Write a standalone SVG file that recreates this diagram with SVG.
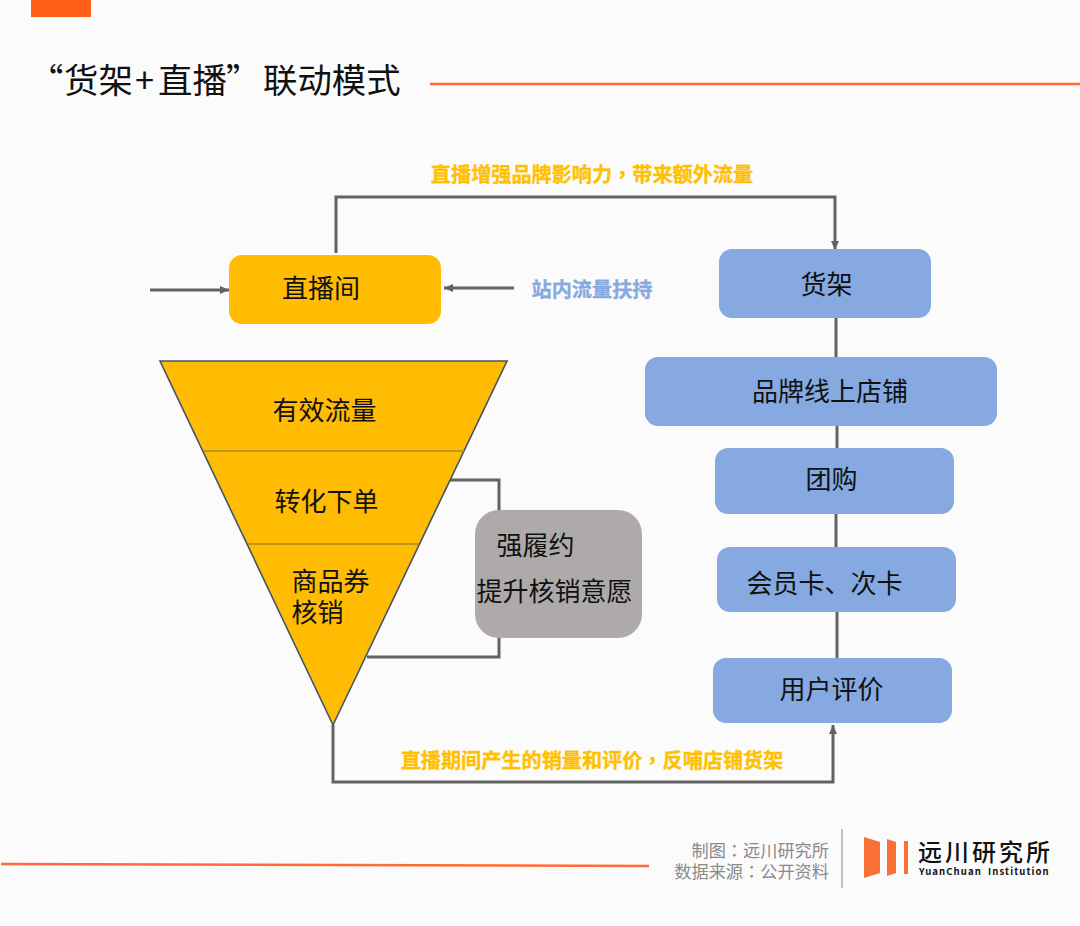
<svg xmlns="http://www.w3.org/2000/svg" width="1080" height="926" viewBox="0 0 1080 926">
<style>
text{font-family:"Noto Sans CJK SC","Noto Sans",sans-serif;fill:#111}
.n{font-size:26px;text-anchor:middle}
.l{font-size:20.15px;font-weight:700;fill:#ffc000;text-anchor:middle;stroke:#ffc000;stroke-width:.3}
.t{font-family:"Noto Sans CJK TC","Noto Sans",sans-serif}
.c{fill:none;stroke:#626262;stroke-width:3}
.b{fill:#85a9e0}
.y{fill:#ffbc03}
.o{fill:none;stroke:#ff6b35;stroke-width:2.4}
.f{font-size:17.2px;fill:#8a8a8a;text-anchor:end}
.h{font-size:34.4px}
</style>
<defs><marker id="a" markerUnits="userSpaceOnUse" markerWidth="10" markerHeight="10" refX="9" refY="5" orient="auto"><path d="M0 1L9 5L0 9Z" fill="#626262"/></marker></defs>
<rect width="1080" height="926" fill="#fbfbfb"/>
<rect x="31" y="0" width="60" height="17" fill="#ff5f17"/>
<text class="h" y="93"><tspan x="29">“</tspan><tspan x="64">货架</tspan><tspan x="135">+</tspan><tspan x="158">直播</tspan><tspan x="226">”</tspan><tspan x="263">联动模式</tspan></text>
<path class="o" d="M430 84H1080M1 864L649 866"/>
<g id="connectors">
<path class="c" d="M336 253V197H835V250" marker-end="url(#a)"/>
<path class="c" d="M150 290H229" marker-end="url(#a)"/>
<path class="c" d="M514 288H444" marker-end="url(#a)"/>
<path class="c" d="M836 318V357M837 426V448M836 514V547M837 612V658"/>
<path class="c" d="M450 480H499V511M367 657H499V636"/>
<path class="c" d="M333 725V782H833V725" marker-end="url(#a)"/>
</g>
<text class="l" x="592" y="182">直播增强品牌影响力<tspan class="t">，</tspan>带来额外流量</text>
<text class="l" x="592" y="768">直播期间产生的销量和评价<tspan class="t">，</tspan>反哺店铺货架</text>
<text class="l" x="592" y="297" style="fill:#85a9e0;stroke:#85a9e0">站内流量扶持</text>
<g id="live"><rect class="y" x="229" y="255" width="212" height="69" rx="13"/><text class="n" x="321" y="298">直播间</text></g>
<g id="shelf"><rect class="b" x="719" y="249" width="212" height="69" rx="13"/><text class="n" x="826.5" y="294">货架</text></g>
<g id="store"><rect class="b" x="645" y="357" width="352" height="69" rx="13"/><text class="n" x="830" y="401">品牌线上店铺</text></g>
<g id="group"><rect class="b" x="715" y="448" width="239" height="66" rx="13"/><text class="n" x="831.5" y="489">团购</text></g>
<g id="member"><rect class="b" x="717" y="547" width="239" height="65" rx="13"/><text class="n" x="824.5" y="593">会员卡、次卡</text></g>
<g id="review"><rect class="b" x="713" y="658" width="239" height="65" rx="13"/><text class="n" x="831.5" y="699">用户评价</text></g>
<g id="funnel">
<path class="y" stroke="#44546a" stroke-width="1.6" d="M160 361H507L333 725Z"/>
<path fill="none" stroke="#a88a1e" stroke-width="1.3" d="M203 451H464M248 544H419"/>
<text class="n" x="324.5" y="420">有效流量</text>
<text class="n" x="326.5" y="511">转化下单</text>
<text class="n" x="291.5" y="591" style="text-anchor:start">商品券</text>
<text class="n" x="291.5" y="622" style="text-anchor:start">核销</text>
</g>
<g id="fulfil"><rect x="475" y="510" width="167" height="128" rx="24" fill="#aeaaaa"/>
<text class="n" x="535.5" y="555">强履约</text><text class="n" x="554.5" y="601">提升核销意愿</text></g>
<g id="footer">
<text class="f" x="829" y="857">制图<tspan class="t">：</tspan>远川研究所</text>
<text class="f" x="829" y="878">数据来源<tspan class="t">：</tspan>公开资料</text>
<path d="M842 829V888" stroke="#999" stroke-width="1.2"/>
<path fill="#f97035" d="M864 837L880 842V873L864 878ZM887 839L896 842V873L887 876ZM904 841H908V874H904Z"/>
<text x="918" y="861" style="font-size:24px;font-weight:500;letter-spacing:3px">远川研究所</text>
<text x="919" y="875" style="font-size:9.5px;font-weight:700;letter-spacing:1.1px;word-spacing:3px">YuanChuan Institution</text>
</g>
</svg>
